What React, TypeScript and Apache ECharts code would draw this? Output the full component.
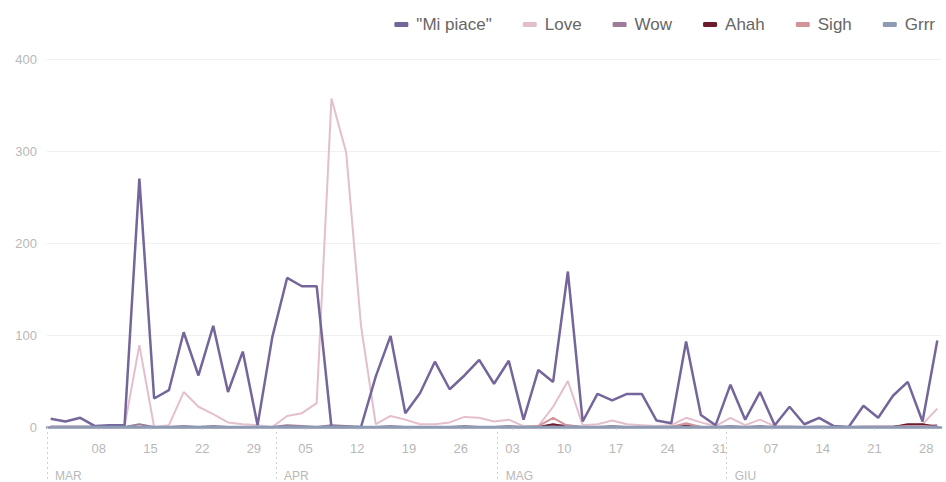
import React, { useEffect, useRef } from "react";
import * as echarts from "echarts";

// Data: one point every 2 days, starting 1 March 2020 (day index 0 = 1 Mar)
const startDay = 0.5;
const stepDays = 2;

const miPiace = [9, 6, 10, 1, 2, 2, 270, 31, 40, 103, 56, 110, 38, 82, 2, 98, 162, 153, 153, 0,
  0, 0, 55, 99, 15, 37, 71, 41, 56, 73, 47, 72, 8, 62, 49, 169, 6, 36, 29, 36,
  36, 7, 4, 93, 13, 2, 46, 8, 38, 2, 22, 3, 10, 1, 0, 23, 10, 34, 49, 6, 94];
const love = [1, 1, 1, 1, 1, 1, 89, 0, 2, 38, 22, 14, 5, 3, 2, 0, 12, 15, 26, 357,
  298, 110, 3, 12, 8, 3, 3, 5, 11, 10, 6, 8, 1, 1, 22, 50, 2, 3, 7, 3,
  2, 1, 2, 10, 5, 1, 10, 2, 8, 1, 1, 0, 1, 0, 0, 1, 1, 1, 1, 3, 20];
const wow = [0, 0, 0, 0, 0, 0, 3, 0, 0, 1, 0, 1, 0, 0, 0, 0, 2, 1, 0, 2,
  1, 0, 0, 1, 0, 0, 0, 0, 1, 0, 0, 1, 0, 0, 2, 2, 0, 0, 1, 0,
  0, 0, 0, 2, 0, 0, 1, 0, 1, 0, 0, 0, 0, 0, 0, 0, 0, 0, 1, 1, 2];
const ahah = [0, 0, 0, 0, 0, 0, 0, 0, 0, 0, 0, 0, 0, 0, 0, 0, 0, 0, 0, 0,
  0, 0, 0, 0, 0, 0, 0, 0, 0, 0, 0, 0, 0, 0, 3, 0, 0, 0, 0, 0,
  0, 0, 0, 1, 0, 0, 0, 0, 0, 0, 0, 0, 0, 0, 0, 0, 0, 0, 3, 3, 0];
const sigh = [0, 0, 0, 0, 0, 0, 0, 0, 0, 0, 0, 0, 0, 0, 0, 0, 0, 0, 0, 0,
  0, 0, 0, 0, 0, 0, 0, 0, 0, 0, 0, 0, 0, 1, 10, 1, 0, 0, 0, 0,
  0, 0, 0, 4, 0, 0, 0, 0, 0, 0, 0, 0, 0, 0, 0, 0, 0, 0, 1, 1, 0];
const grrr = new Array(miPiace.length).fill(0);

const seriesNames = ['"Mi piace"', "Love", "Wow", "Ahah", "Sigh", "Grrr"];
const seriesColors = ["#74669a", "#e3bfcd", "#9c7c98", "#6e1b2e", "#d3939b", "#8d9bb4"];
const seriesWidths = [2.5, 2, 2, 2, 2, 2.5];
const seriesValues = [miPiace, love, wow, ahah, sigh, grrr];

// Axis
const axisMin = 0;
const axisMax = 121; // 1 Mar .. 30 Jun (end)
const weekInterval = 7;
const monthStarts = [0, 31, 61, 92];
const monthLabels = ["MAR", "APR", "MAG", "GIU"];
const yTicks = [0, 100, 200, 300, 400];

function dayOfMonth(d: number): string {
  const dt = new Date(2020, 2, 1 + Math.round(d));
  const s = String(dt.getDate());
  return s.length < 2 ? "0" + s : s;
}

export default function App() {
  const ref = useRef<HTMLDivElement>(null);
  useEffect(() => {
    if (!ref.current) return;
    const chart = echarts.init(ref.current, undefined, { renderer: "svg" });
    const font = "'Liberation Sans', Arial, sans-serif";
    chart.setOption({
      animation: false,
      textStyle: { fontFamily: font },
      legend: {
        top: 11,
        right: 6,
        icon: "roundRect",
        itemWidth: 14,
        itemHeight: 5,
        itemGap: 31,
        data: seriesNames,
        textStyle: { fontSize: 17, color: "#666", fontFamily: font, padding: [0, 0, 0, 3] },
      },
      grid: { left: 47, right: 5, top: 59, bottom: 55, containLabel: false },
      xAxis: [
        {
          type: "value",
          min: axisMin,
          max: axisMax,
          interval: weekInterval,
          axisLine: { show: true, lineStyle: { color: "#8a93ad", width: 2.5 } },
          axisTick: { show: true, length: 3, lineStyle: { color: "#c8d0dc" } },
          splitLine: { show: false },
          axisLabel: {
            showMinLabel: false,
            showMaxLabel: false,
            color: "#b8b8b8",
            fontSize: 13,
            margin: 15,
            fontFamily: font,
            formatter: (v: number) => (v === 0 ? "" : dayOfMonth(v)),
          },
        },
        {
          type: "value",
          min: axisMin,
          max: axisMax,
          position: "bottom",
          axisLine: { show: false },
          splitLine: { show: false },
          axisTick: {
            show: true,
            customValues: monthStarts,
            length: 52,
            lineStyle: { color: "#cfcfcf", type: [2, 3], width: 1 },
          },
          axisLabel: {
            customValues: monthStarts,
            color: "#b8b8b8",
            fontSize: 12,
            margin: 43,
            align: "left",
            padding: [0, 0, 0, 8],
            fontFamily: font,
            formatter: (v: number) => monthLabels[monthStarts.indexOf(Math.round(v))] || "",
          },
        },
      ],
      yAxis: {
        type: "value",
        min: 0,
        max: 400,
        interval: 100,
        axisLine: { show: false },
        axisTick: { show: false },
        splitLine: { lineStyle: { color: "#f0f0f0" } },
        axisLabel: {
          color: "#b8b8b8",
          fontSize: 13,
          margin: 10,
          fontFamily: font,
          customValues: yTicks,
        },
      },
      series: seriesNames.map((name, i) => ({
        name,
        type: "line",
        xAxisIndex: 0,
        symbol: "none",
        z: i === 0 ? 3 : i === 5 ? 4 : 2,
        lineStyle: { color: seriesColors[i], width: seriesWidths[i] },
        itemStyle: { color: seriesColors[i] },
        data: seriesValues[i].map((v, k) => [startDay + k * stepDays, v]),
      })),
    });
    return () => chart.dispose();
  }, []);
  return <div ref={ref} style={{ width: 946, height: 482, position: "absolute", left: 0, top: 0 }} />;
}
